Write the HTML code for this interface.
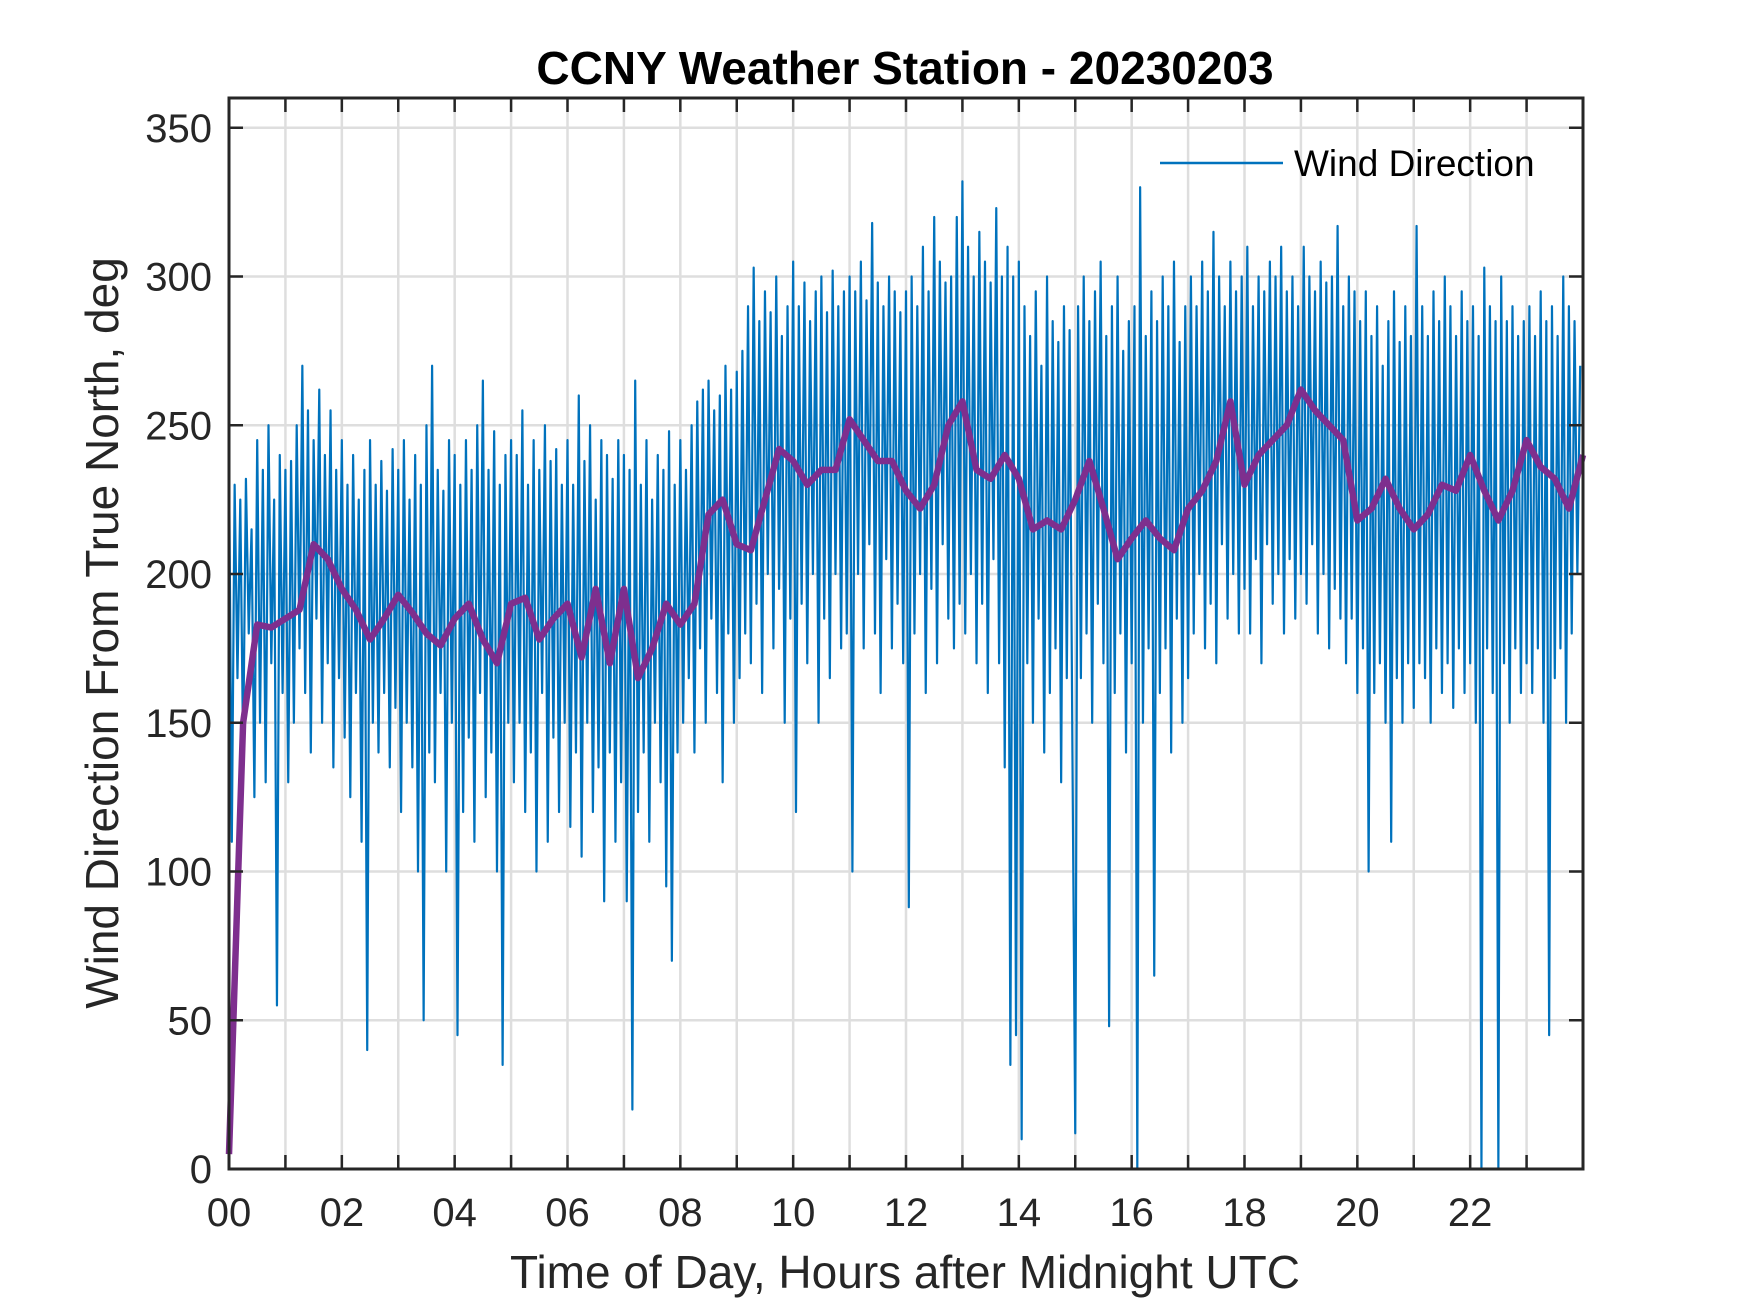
<!DOCTYPE html>
<html><head><meta charset="utf-8"><style>
html,body{margin:0;padding:0;background:#fff;}
svg{display:block;font-family:"Liberation Sans",Arial,sans-serif;}
</style></head><body>
<svg id="chart" width="1750" height="1313" viewBox="0 0 1750 1313">
<rect x="0" y="0" width="1750" height="1313" fill="#fff"/>
<g id="grid"></g>
<g id="series"></g>
<g id="axes"></g>
<text x="905" y="84" text-anchor="middle" font-size="46" font-weight="bold" fill="#000">CCNY Weather Station - 20230203</text>
<text x="905" y="1288" text-anchor="middle" font-size="46" fill="#262626">Time of Day, Hours after Midnight UTC</text>
<text x="0" y="0" transform="translate(118,633) rotate(-90)" text-anchor="middle" font-size="46" fill="#262626">Wind Direction From True North, deg</text>
<g>
<line x1="1160" y1="163" x2="1283" y2="163" stroke="#0072BD" stroke-width="2.5"/>
<text x="1294" y="176" font-size="37" fill="#000">Wind Direction</text>
</g>
</svg>
<script>
const xTickValues=[0,1,2,3,4,5,6,7,8,9,10,11,12,13,14,15,16,17,18,19,20,21,22,23];
const xTickLabels=["00","","02","","04","","06","","08","","10","","12","","14","","16","","18","","20","","22",""];
const yTickValues=[0,50,100,150,200,250,300,350];
const yTickLabels=["0","50","100","150","200","250","300","350"];
const windDirection=[
240,110,230,165,225,140,232,180,215,125,245,150,235,130,250,170,225,55,240,160,
235,130,238,150,250,175,270,160,255,140,245,185,262,150,240,170,255,135,235,165,
245,145,230,125,240,160,225,110,235,40,245,150,230,140,238,160,228,135,242,155,
235,120,245,150,225,135,240,100,230,50,250,140,270,130,235,160,228,100,245,150,
240,45,230,120,245,145,235,110,250,160,265,125,235,140,248,100,230,35,240,150,
245,130,240,150,255,120,230,140,245,100,235,160,250,110,238,145,242,120,230,150,
245,115,230,140,260,105,238,150,250,120,225,135,245,90,240,140,232,110,245,130,
240,90,235,20,265,120,230,140,245,110,225,150,240,130,235,95,248,70,230,140,
245,150,235,165,250,140,258,175,262,150,265,185,255,160,260,130,270,180,262,150,
268,165,275,180,290,170,303,190,285,160,295,200,288,175,300,195,280,150,290,185,
305,120,290,190,298,170,285,200,295,150,300,185,288,165,302,200,290,175,295,180,
300,100,295,200,305,175,292,210,318,180,298,160,290,205,300,175,295,190,288,170,
295,88,300,180,290,200,310,160,295,195,320,170,305,210,298,185,300,175,320,190,
332,180,310,200,300,170,315,190,305,160,298,205,323,170,300,135,310,35,300,45,
305,10,290,170,280,150,295,185,270,140,300,160,285,175,278,130,290,165,282,140,
12,290,165,300,180,285,150,295,190,305,170,280,48,290,160,300,180,275,140,285,
170,290,0,330,150,280,175,295,65,285,160,300,175,290,140,305,185,278,150,290,
165,300,180,290,200,305,175,295,190,315,170,300,210,290,185,305,200,295,180,300,
195,310,180,290,205,300,170,295,210,305,190,300,200,310,180,295,205,300,185,290,
200,310,190,300,210,295,180,305,200,298,175,300,195,317,185,290,170,300,185,295,
160,285,175,295,100,280,160,290,170,270,150,285,110,295,165,278,150,290,170,280,
155,317,170,290,165,280,150,295,175,285,160,300,170,290,155,280,175,295,160,285,
170,290,150,280,0,303,175,290,160,285,0,300,170,285,150,290,175,280,160,285,
170,290,160,280,175,295,150,285,45,290,165,280,175,300,150,290,180,285,200,270
];
const smoothed=[
5,150,183,182,185,188,210,205,195,188,178,185,193,187,180,176,
185,190,178,170,190,192,178,185,190,172,195,170,195,165,175,190,
183,190,220,225,210,208,225,242,238,230,235,235,252,245,238,238,
228,222,230,250,258,235,232,240,232,215,218,215,225,238,222,205,
212,218,212,208,222,228,238,258,230,240,245,250,262,255,250,245,
218,222,232,222,215,220,230,228,240,228,218,228,245,236,232,222,240
];
const L=229,R=1583,T=98,B=1169,XMIN=0,XMAX=24,YMIN=0,YMAX=360;
const xs=v=>L+(v-XMIN)/(XMAX-XMIN)*(R-L);
const ys=v=>B-(v-YMIN)/(YMAX-YMIN)*(B-T);
const NS="http://www.w3.org/2000/svg";
function mk(tag,parent,attrs){const e=document.createElementNS(NS,tag);for(const k in attrs)e.setAttribute(k,attrs[k]);parent.appendChild(e);return e;}
const grid=document.getElementById('grid'),series=document.getElementById('series'),axes=document.getElementById('axes');
xTickValues.forEach((v,i)=>{
  if(v>XMIN){const g=mk('line',grid,{x1:xs(v),x2:xs(v),y1:T,y2:B,stroke:'#dedede','stroke-width':2.5});
  
  }
  const t1=mk('line',axes,{x1:xs(v),x2:xs(v),y1:B,y2:B-14,stroke:'#262626','stroke-width':2.5});
  
  
  const t2=mk('line',axes,{x1:xs(v),x2:xs(v),y1:T,y2:T+14,stroke:'#262626','stroke-width':2.5});
  
  
  if(xTickLabels[i]){const tx=mk('text',axes,{x:xs(v),y:B+57,'text-anchor':'middle','font-size':40,fill:'#262626'});tx.textContent=xTickLabels[i];
  
  }
});
yTickValues.forEach((v,i)=>{
  if(v>YMIN){const g=mk('line',grid,{x1:L,x2:R,y1:ys(v),y2:ys(v),stroke:'#dedede','stroke-width':2.5});
  
  }
  const t1=mk('line',axes,{x1:L,x2:L+14,y1:ys(v),y2:ys(v),stroke:'#262626','stroke-width':2.5});
  
  
  const t2=mk('line',axes,{x1:R,x2:R-14,y1:ys(v),y2:ys(v),stroke:'#262626','stroke-width':2.5});
  
  
  const tx=mk('text',axes,{x:L-17,y:ys(v)+14,'text-anchor':'end','font-size':40,fill:'#262626'});tx.textContent=yTickLabels[i];
  
  
});
const box=mk('rect',axes,{x:L,y:T,width:R-L,height:B-T,fill:'none',stroke:'#262626','stroke-width':3});


const n=windDirection.length;
const pts=windDirection.map((v,i)=>xs(i*XMAX/n)+','+ys(v)).join(' ');
const blue=mk('polyline',series,{points:pts,fill:'none',stroke:'#0072BD','stroke-width':2.2,'stroke-linejoin':'round'});


const m=smoothed.length;
const pts2=smoothed.map((v,i)=>xs(i*XMAX/(m-1))+','+ys(v)).join(' ');
const purple=mk('polyline',series,{points:pts2,fill:'none',stroke:'#7E2F8E','stroke-width':6.5,'stroke-linejoin':'round'});


</script>
</body></html>
